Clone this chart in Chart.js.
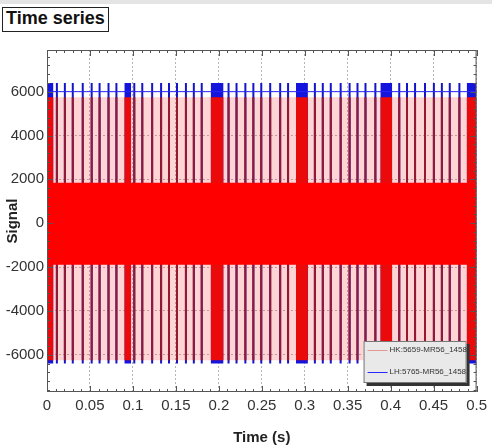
<!DOCTYPE html>
<html lang="en">
<head>
<meta charset="UTF-8">
<title>Time series</title>
<script src="https://cdn.jsdelivr.net/npm/chart.js"></script>
<style>
  html, body { margin: 0; padding: 0; background: #fff; }
  #wrap { position: relative; width: 492px; height: 447px; }
  #topbar { position: absolute; left: 0; top: 0; width: 492px; height: 4px; background: #e4e4e4; }
  #title {
    position: absolute; left: 2px; top: 7px; height: 23px; line-height: 23px;
    padding: 0 3px; border: 1.5px solid #222; background: #fff;
    font: bold 18px "Liberation Sans", Arial, sans-serif; color: #111;
  }
</style>
</head>
<body>
<div id="wrap">
  <canvas id="chart" width="492" height="447"></canvas>
  <div id="topbar"></div>
  <div id="title">Time series</div>
</div>
<script>
// axis ticks
const timeTicks = [0, 0.05, 0.1, 0.15, 0.2, 0.25, 0.3, 0.35, 0.4, 0.45, 0.5];
const signalTicks = [-6000, -4000, -2000, 0, 2000, 4000, 6000];

// series names
const seriesNames = ['HK:5659-MR56_1458', 'LH:5765-MR56_1458'];

// single spikes (s)
const spikeTimes = [0.0115, 0.0208, 0.030, 0.0416, 0.052, 0.0612, 0.0716, 0.0808,
  0.1016, 0.1109, 0.1224, 0.1328, 0.142, 0.1513, 0.1617, 0.1709, 0.1801,
  0.2113, 0.2206, 0.2309, 0.2402, 0.2494, 0.2598, 0.2714, 0.2806,
  0.3118, 0.321, 0.3303, 0.3418, 0.3522, 0.3614, 0.3707, 0.3822,
  0.41, 0.419, 0.4284, 0.44, 0.4503, 0.4596, 0.4688, 0.48];

// dense bursts (start / end, s)
const burstStart = [0.0, 0.090, 0.1905, 0.2898, 0.388, 0.4885];
const burstEnd = [0.0075, 0.098, 0.2055, 0.3037, 0.4018, 0.5];

// signal levels
const redRange = [-6250, 5750];     // red swing
const blueRange = [-6400, 6400];    // blue swing
const blueBase = [6000, 6000];      // blue upper plateau
const bandTime = [0, 0.5];
const bandHigh = [1850, 1850];      // red dense oscillation envelope
const bandLow = [-1900, -1900];

function vlines(times, lo, hi) {
  const pts = [];
  times.forEach(t => { pts.push({x: t, y: lo}, {x: t, y: hi}, {x: t, y: null}); });
  return pts;
}
function flat(ts, ys) { return ts.map((t, i) => ({x: t, y: ys[i]})); }

const datasets = [];
// dense red band
datasets.push({ label: seriesNames[0], data: flat(bandTime, bandHigh), order: 1,
  borderWidth: 0, backgroundColor: 'rgb(255,0,0)', fill: {value: bandLow[0]} });
// red bursts
burstStart.forEach((s, i) => {
  datasets.push({ data: [{x: s, y: redRange[1]}, {x: burstEnd[i], y: redRange[1]}], order: 2,
    borderWidth: 0, backgroundColor: 'rgb(235,10,10)', fill: {value: redRange[0]} });
});
// red spikes
datasets.push({ data: vlines(spikeTimes, redRange[0], redRange[1]), order: 3,
  borderColor: 'rgb(150,25,45)', borderWidth: 2, spanGaps: false });
// blue plateau
datasets.push({ label: seriesNames[1], data: flat(bandTime, blueBase), order: 4,
  borderColor: 'rgb(40,40,255)', borderWidth: 1 });
// blue spikes
datasets.push({ data: vlines(spikeTimes, blueRange[0], blueRange[1]), order: 5,
  borderColor: 'rgb(20,20,200)', borderWidth: 2, spanGaps: false });
// blue bursts
burstStart.forEach((s, i) => {
  datasets.push({ data: [{x: s, y: blueRange[1]}, {x: burstEnd[i], y: blueRange[1]}], order: 6,
    borderWidth: 0, backgroundColor: 'rgb(20,20,220)', fill: {value: blueRange[0]} });
});
// faint red between spikes
datasets.push({ data: flat(bandTime, [redRange[1], redRange[1]]), order: 7,
  borderWidth: 0, backgroundColor: 'rgba(255,60,60,0.22)', fill: {value: redRange[0]} });

const framePlugin = {
  id: 'frame',
  afterDatasetsDraw(chart) {
    const {ctx, chartArea: a, scales} = chart;
    const x = scales.x, y = scales.y;
    ctx.save();
    ctx.strokeStyle = '#555';
    ctx.lineWidth = 1;
    ctx.beginPath();
    for (let i = 0; i <= 50; i++) {
      const px = Math.round(x.getPixelForValue(i * 0.01)) + 0.5;
      const len = i % 5 === 0 ? 6 : 3;
      ctx.moveTo(px, a.bottom); ctx.lineTo(px, a.bottom - len);
      ctx.moveTo(px, a.top); ctx.lineTo(px, a.top + len);
    }
    for (let v = -7600; v <= 7900; v += 400) {
      const py = Math.round(y.getPixelForValue(v)) + 0.5;
      const len = v % 2000 === 0 ? 6 : 3;
      ctx.moveTo(a.left, py); ctx.lineTo(a.left + len, py);
      ctx.moveTo(a.right, py); ctx.lineTo(a.right - len, py);
    }
    ctx.stroke();
    ctx.strokeRect(a.left + 0.5, a.top + 0.5, a.right - a.left - 1, a.bottom - a.top - 1);

    // legend box
    const w = 103, h = 42;
    const lx = a.right - 10 - w, ly = a.bottom - 9 - h;
    ctx.fillStyle = '#333';
    ctx.fillRect(lx + 3, ly + 3, w, h);
    ctx.fillStyle = '#e9e9e9';
    ctx.fillRect(lx, ly, w, h);
    ctx.strokeStyle = '#777';
    ctx.strokeRect(lx + 0.5, ly + 0.5, w - 1, h - 1);
    const colors = ['rgb(230,150,150)', 'rgb(40,40,255)'];
    ctx.font = '8px "Liberation Sans", Arial, sans-serif';
    ctx.textBaseline = 'middle';
    seriesNames.forEach((n, i) => {
      const ry = ly + 9 + i * 22;
      ctx.strokeStyle = colors[i];
      ctx.beginPath(); ctx.moveTo(lx + 4, ry + 0.5); ctx.lineTo(lx + 24, ry + 0.5); ctx.stroke();
      ctx.fillStyle = '#333';
      ctx.fillText(n, lx + 26, ry);
    });
    ctx.restore();
  }
};

new Chart(document.getElementById('chart'), {
  type: 'line',
  data: { datasets },
  options: {
    responsive: false,
    animation: false,
    parsing: true,
    layout: { padding: { top: 50, right: 12, left: 0, bottom: 0 } },
    elements: { point: { radius: 0 }, line: { tension: 0 } },
    plugins: { legend: { display: false }, tooltip: { enabled: false } },
    scales: {
      x: {
        type: 'linear', min: 0, max: 0.5,
        afterBuildTicks: s => { s.ticks = timeTicks.map(v => ({value: v})); },
        afterFit: s => { s.height = 55; },
        ticks: { color: '#333', padding: 5, maxRotation: 0, autoSkip: false,
          font: { family: '"Liberation Sans", Arial, sans-serif', size: 15 },
          callback: v => String(+v.toFixed(2)) },
        grid: { color: '#b5b5b5', drawTicks: false },
        border: { display: false, dash: [2, 2] },
        title: { display: true, text: 'Time (s)', color: '#222', padding: { top: 0, bottom: 0 },
          font: { family: '"Liberation Sans", Arial, sans-serif', size: 15, weight: 'bold' } }
      },
      y: {
        min: -7700, max: 7900,
        afterBuildTicks: s => { s.ticks = signalTicks.map(v => ({value: v})); },
        afterFit: s => { s.width = 47; },
        ticks: { color: '#333', padding: 3,
          font: { family: '"Liberation Sans", Arial, sans-serif', size: 15 },
          callback: v => String(v) },
        grid: { color: '#b5b5b5', drawTicks: false },
        border: { display: false, dash: [2, 2] },
        title: { display: true, text: 'Signal', color: '#222', padding: { top: 4, bottom: 0 },
          font: { family: '"Liberation Sans", Arial, sans-serif', size: 15, weight: 'bold' } }
      }
    }
  },
  plugins: [framePlugin]
});
</script>
</body>
</html>
